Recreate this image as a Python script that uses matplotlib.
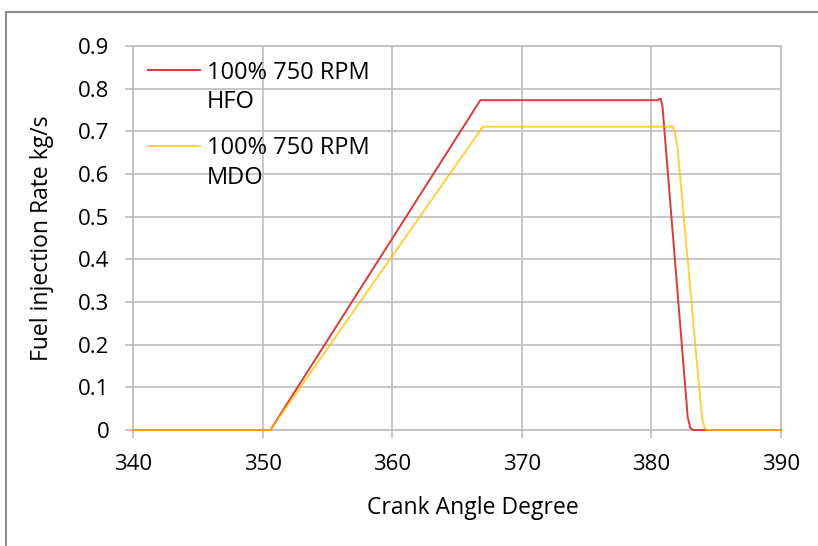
import numpy as np
import matplotlib.pyplot as plt
from matplotlib.lines import Line2D
from matplotlib.legend_handler import HandlerLine2D

# crank angle (deg) / injection rate (kg/s)
hfo_angle = [340, 350.6, 366.8, 380.5, 380.7, 380.85, 382.8, 383.0, 383.2, 390]
hfo_rate = [0, 0, 0.773, 0.773, 0.777, 0.76, 0.03, 0.005, 0, 0]

mdo_angle = [340, 350.6, 367.0, 381.4, 381.6, 381.8, 382.0, 382.2, 383.4, 383.9, 384.1, 384.3, 390]
mdo_rate = [0, 0, 0.711, 0.711, 0.712, 0.70, 0.665, 0.60, 0.195, 0.03, 0.005, 0, 0]

labels = ["100% 750 RPM\nHFO", "100% 750 RPM\nMDO"]
x_ticks = [340, 350, 360, 370, 380, 390]
y_ticks = [0, 0.1, 0.2, 0.3, 0.4, 0.5, 0.6, 0.7, 0.8, 0.9]


class TopLineHandler(HandlerLine2D):
    # put the legend line next to the first text line, like Excel does
    def create_artists(self, legend, orig_handle, xdescent, ydescent,
                       width, height, fontsize, trans):
        artists = super().create_artists(legend, orig_handle, xdescent, ydescent,
                                         width, height, fontsize, trans)
        for a in artists:
            a.set_ydata(np.asarray(a.get_ydata()) + 0.75 * fontsize)
        return artists


plt.rcParams['font.family'] = ['Open Sans', 'DejaVu Sans']

fig = plt.figure(figsize=(8.18, 5.46), dpi=100)
ax = fig.add_axes([133/818, 1 - 430/546, (781 - 133)/818, (430 - 46)/546])

l1, = ax.plot(hfo_angle, hfo_rate, color='#D83B3B', lw=1.4, label=labels[0],
              zorder=3, clip_on=False)
l2, = ax.plot(mdo_angle, mdo_rate, color='#FFC000', lw=1.4, alpha=0.75, label=labels[1],
              zorder=3, clip_on=False)

ax.set_xlim(340, 390)
ax.set_ylim(0, 0.9)
ax.set_xticks(x_ticks)
ax.set_yticks(y_ticks)
ax.set_yticklabels(["0" if v == 0 else f"{v:g}" for v in y_ticks])
ax.grid(True, color='#BDBDBD', lw=1.2)
ax.set_axisbelow(True)
for s in ax.spines.values():
    s.set_color('#BDBDBD')
    s.set_linewidth(1.2)
ax.tick_params(axis='both', labelsize=16, color='#BDBDBD', length=6, width=1.2)
ax.tick_params(axis='x', pad=11)
ax.tick_params(axis='y', pad=11)

ax.set_xlabel("Crank Angle Degree", fontsize=16.5)
ax.xaxis.set_label_coords((473 - 133) / 648, (430 - 496) / 384)
ax.set_ylabel("Fuel injection Rate kg/s", fontsize=16.5, labelpad=17)

leg = ax.legend(loc='upper left', frameon=False, fontsize=17, handlelength=2.2,
                handletextpad=0.3, labelspacing=0.92, borderaxespad=0, borderpad=0,
                bbox_to_anchor=(0.023, 0.962),
                handler_map={l1: TopLineHandler(), l2: TopLineHandler()})
for t in leg.get_texts():
    t.set_linespacing(1.32)

# outer chart border (Excel-like)
fig.add_artist(Line2D([6/818, 1.0], [1 - 12/546] * 2, color='#8C8C8C', lw=1.5))
fig.add_artist(Line2D([6/818] * 2, [0.0, 1 - 12/546], color='#8C8C8C', lw=1.5))

fig.savefig("out.png", dpi=100)
